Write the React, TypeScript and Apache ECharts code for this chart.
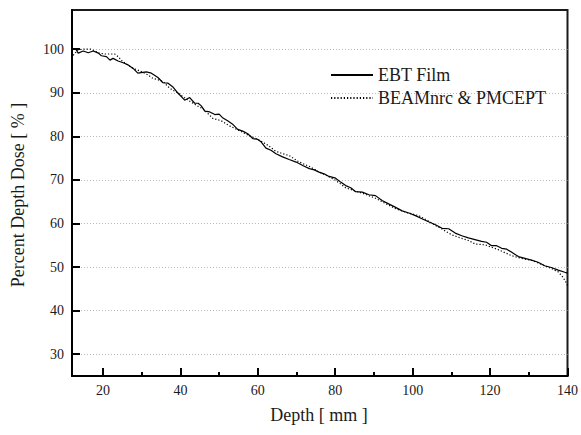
import React, { useEffect, useRef } from "react";
import * as echarts from "echarts";

const ebtX = [12, 13, 13.6, 14.9, 16.2, 17.5, 18.8, 19.6, 20.9, 21.8, 22.6, 23.9, 25.2, 26.5, 27.8, 29.0, 30.3, 31.2, 32.5, 34.2, 35.5, 36.8, 38.0, 39.3, 41.1, 42.4, 43.7, 44.6, 45.4, 46.3, 47.6, 48.9, 50, 51, 52.3, 53.6, 54.8, 56.1, 57.4, 58.7, 60, 60.9, 62.1, 63.4, 64.7, 66.4, 68.1, 69.9, 71.6, 73.3, 74.6, 75.8, 77.1, 78.4, 80.1, 81.4, 82.7, 84, 85.3, 87, 88.7, 90.4, 92.1, 93.8, 95.6, 97.3, 99, 100.7, 102.4, 104.1, 105.9, 107.6, 109.3, 111, 112.7, 114.4, 116.1, 117.8, 119.1, 120.4, 121.7, 123, 124.3, 125.6, 127.3, 129, 130.7, 132.4, 134.1, 135.8, 137.6, 139.3, 140];
const ebtY = [100, 100, 99.1, 99.6, 99.2, 99.6, 99.1, 98.5, 98.3, 97.5, 97.9, 97.3, 96.9, 96.4, 95.6, 94.5, 94.7, 94.8, 94.5, 93.5, 92.3, 92.2, 91.4, 90.0, 88.3, 88.9, 87.6, 87.6, 87.0, 85.8, 85.6, 85.0, 85.1, 84.2, 83.5, 82.7, 81.6, 81.2, 80.6, 79.5, 79.3, 78.7, 77.3, 76.8, 76.0, 75.3, 74.7, 74.1, 73.3, 72.6, 72.3, 71.8, 71.4, 70.8, 70.4, 69.5, 68.7, 68.2, 67.3, 67.2, 66.6, 66.4, 65.3, 64.5, 63.7, 62.9, 62.4, 61.8, 61.1, 60.4, 59.7, 58.9, 58.8, 57.8, 57.2, 56.7, 56.3, 55.9, 55.7, 54.9, 54.9, 54.3, 54.1, 53.4, 52.4, 52.0, 51.6, 51.1, 50.3, 49.9, 49.3, 48.8, 48.6];

const mcX = [12, 12.4, 13.6, 15, 17, 19, 20.5, 21.8, 23, 23.9, 24.8, 26, 27.8, 29, 30.3, 31.6, 32.9, 34.2, 35.5, 36.8, 38, 39, 40.5, 42, 44, 46, 48.4, 50.5, 52.7, 55, 57.5, 60, 62, 63, 64.6, 66.5, 68.1, 70.5, 73.3, 75.5, 78, 80.1, 82.7, 85, 87.5, 90.4, 92.1, 95.6, 98.5, 101.6, 104, 106, 108, 110.1, 112, 114.4, 116.1, 118.7, 122.1, 125.6, 128.5, 131, 134.1, 136, 137.6, 138.9, 139.6, 140];
const mcY = [97.9, 98.7, 99.9, 100, 100, 99.1, 98.9, 98.9, 98.9, 98.3, 97.4, 96.6, 95.6, 95.2, 94.7, 94.1, 93.3, 93.0, 92.6, 91.4, 90.6, 90.2, 89.2, 88.3, 87.2, 86.2, 84.1, 83.6, 82.4, 81.4, 80.3, 79.3, 78.3, 77.7, 76.6, 76.0, 75.6, 74.2, 73.1, 72.0, 70.9, 69.9, 68.2, 67.5, 66.8, 65.8, 65.0, 63.4, 62.5, 61.8, 60.6, 59.5, 58.5, 57.4, 56.8, 56.1, 55.3, 55.1, 54.0, 52.6, 51.9, 51.5, 50.3, 49.6, 48.9, 47.6, 46.5, 45.8];

const xRange = [12, 140];
const yRange = [25, 109];
const xName = "Depth [ mm ]";
const yName = "Percent Depth Dose [ % ]";

const FONT = "Liberation Serif";
const INK = "#000";

export default function App() {
  const ref = useRef<HTMLDivElement>(null);
  useEffect(() => {
    if (!ref.current) return;
    const chart = echarts.init(ref.current, undefined, { renderer: "svg" });
    chart.setOption({
      animation: false,
      grid: {
        left: 72, right: 11, top: 10, bottom: 59,
        show: true, borderColor: "#1a1a1a", borderWidth: 2,
      },
      legend: {
        orient: "vertical",
        left: 330,
        top: 65,
        padding: 0,
        itemWidth: 42,
        itemHeight: 10,
        itemGap: 3,
        itemStyle: { opacity: 0 },
        textStyle: { fontFamily: FONT, fontSize: 18, color: "#1a1a1a", lineHeight: 20 },
        data: ["EBT Film", "BEAMnrc & PMCEPT"],
      },
      graphic: [
        {
          type: "text", x: 319, y: 415,
          style: { text: xName, fontFamily: FONT, fontSize: 18, fill: "#1a1a1a", align: "center", verticalAlign: "middle" },
        },
        {
          type: "text", x: 18, y: 195, rotation: Math.PI / 2,
          style: { text: yName, fontFamily: FONT, fontSize: 18, fill: "#1a1a1a", align: "center", verticalAlign: "middle" },
        },
      ],
      xAxis: {
        type: "value", min: xRange[0], max: xRange[1], position: "bottom", splitNumber: 6,
        axisLine: { show: true, onZero: false, lineStyle: { color: INK, width: 2 } },
        axisTick: { show: true, inside: true, length: 8, lineStyle: { color: INK, width: 2 } },
        minorTick: { show: true, splitNumber: 2, length: 4, lineStyle: { color: INK, width: 2 } },
        axisLabel: { show: true, margin: 7, showMinLabel: false, color: "#1a1a1a", fontSize: 14, fontFamily: FONT },
        splitLine: { show: false },
      },
      yAxis: {
        type: "value", min: yRange[0], max: yRange[1], position: "left", splitNumber: 8,
        axisLine: { show: true, onZero: false, lineStyle: { color: INK, width: 2 } },
        axisTick: { show: true, inside: true, length: 8, lineStyle: { color: INK, width: 2 } },
        axisLabel: { show: true, margin: 8, showMinLabel: false, showMaxLabel: false, color: "#1a1a1a", fontSize: 14, fontFamily: FONT },
        splitLine: { show: true, showMinLine: false, showMaxLine: false, lineStyle: { color: "#b8b8b8", width: 1, type: [1, 2] } },
      },
      series: [
        {
          name: "EBT Film", type: "line",
          symbol: "none",
          lineStyle: { color: "#000", width: 1.2, type: "solid" },
          itemStyle: { color: "#000" },
          data: ebtX.map((x, i) => [x, ebtY[i]]),
        },
        {
          name: "BEAMnrc & PMCEPT", type: "line",
          symbol: "none",
          lineStyle: { color: "#000", width: 1.2, type: [1.2, 2] },
          itemStyle: { color: "#000" },
          data: mcX.map((x, i) => [x, mcY[i]]),
        },
      ],
    });
    return () => chart.dispose();
  }, []);
  return <div ref={ref} style={{ width: 581, height: 435, position: "absolute", left: 0, top: 0 }} />;
}
